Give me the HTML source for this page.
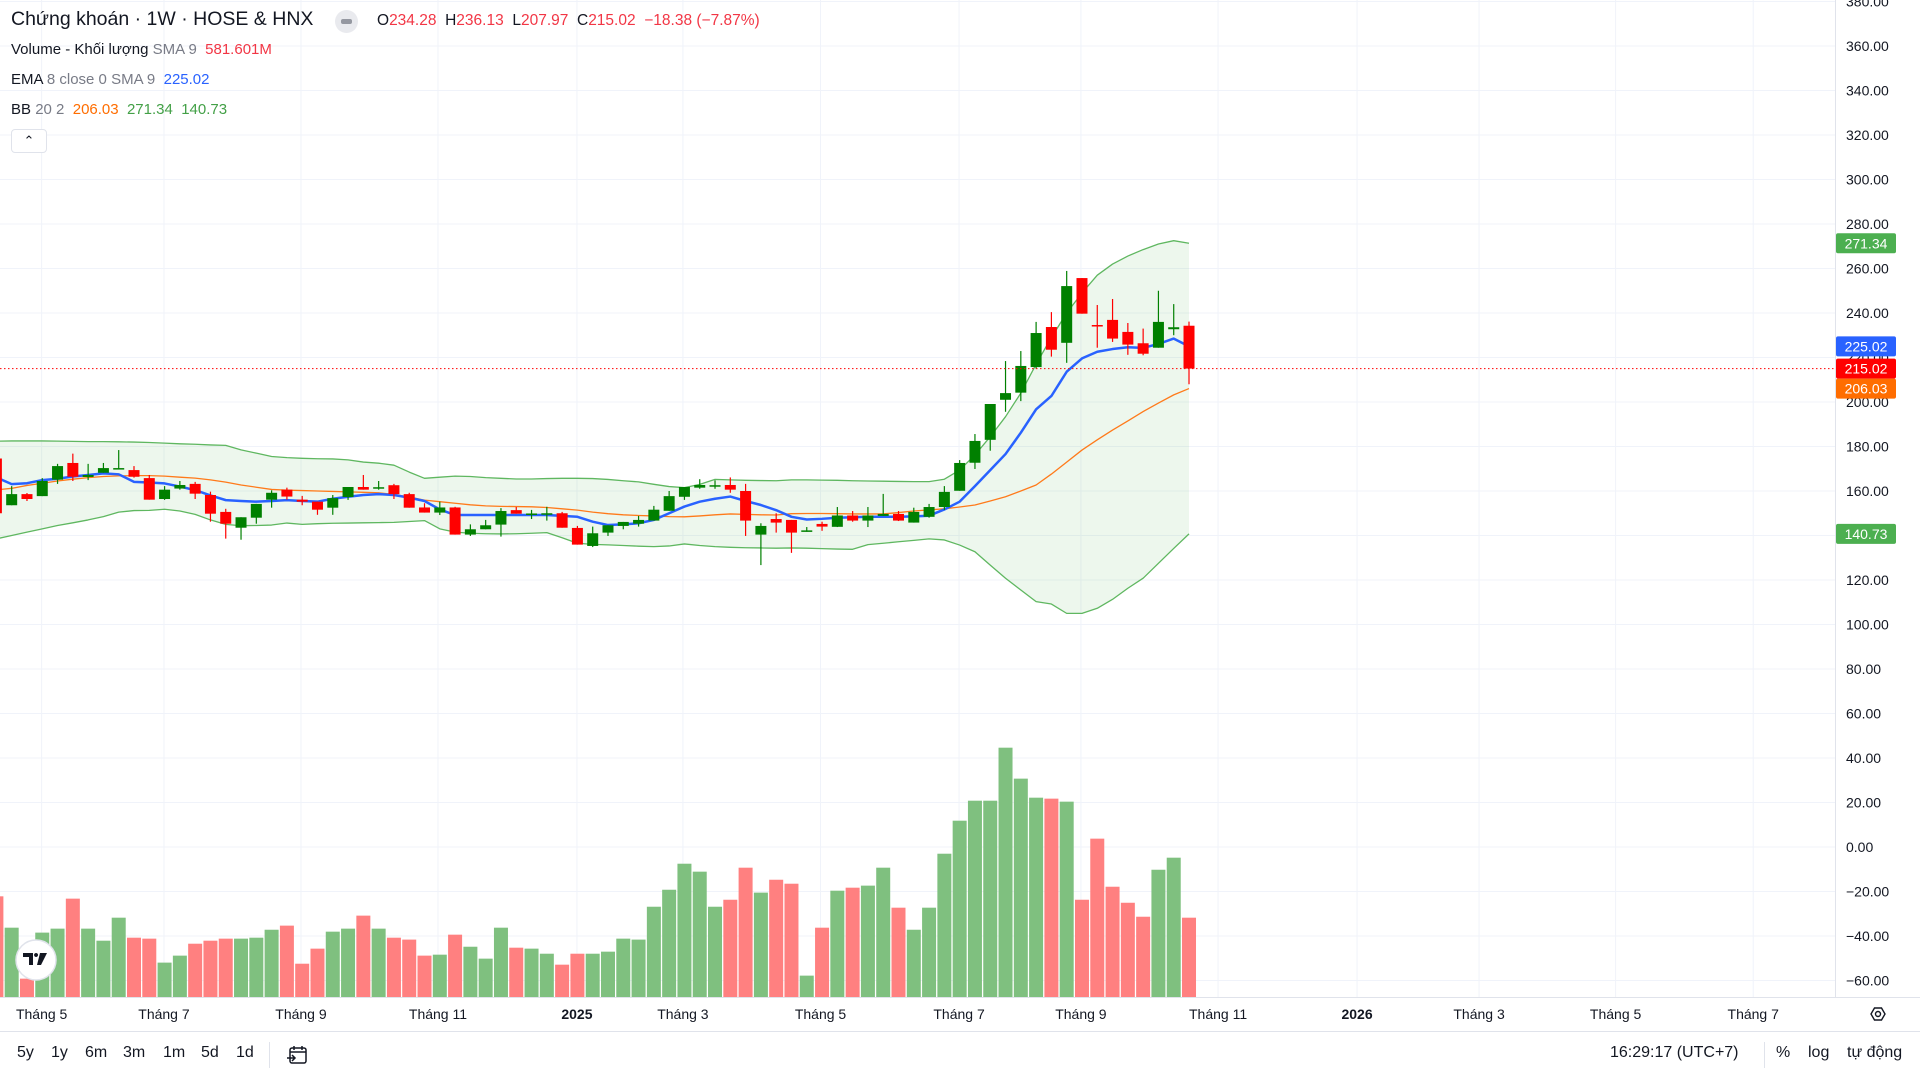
<!DOCTYPE html>
<html><head><meta charset="utf-8"><title>Chứng khoán 1W</title>
<style>
html,body{margin:0;padding:0;background:#fff;width:1920px;height:1080px;overflow:hidden;font-family:"Liberation Sans","Noto Sans CJK SC",sans-serif;color:#131722}
#chart{position:absolute;left:0;top:0}
.leg{position:absolute;left:11px;font-size:15px;white-space:nowrap;color:#131722}
.g{color:#787b86}
.tb{position:absolute;top:1044px;font-size:16px;color:#131722}
</style></head><body>
<svg id="chart" width="1920" height="1080" xmlns="http://www.w3.org/2000/svg"></svg>

<div class="leg" style="top:8px;font-size:19.5px">Chứng khoán · 1W · HOSE &amp; HNX</div>
<div style="position:absolute;left:335px;top:10px;width:23px;height:23px;border-radius:12px;background:#e9eaee"><div style="position:absolute;left:6px;top:9px;width:11px;height:5px;border-radius:2px;background:#9598a1"></div></div>
<div class="leg" style="left:377px;top:12px;font-size:15.5px">O<span style="color:#f23645">234.28</span>&nbsp; H<span style="color:#f23645">236.13</span>&nbsp; L<span style="color:#f23645">207.97</span>&nbsp; C<span style="color:#f23645">215.02</span>&nbsp; <span style="color:#f23645">−18.38 (−7.87%)</span></div>
<div class="leg" style="top:41px">Volume - Khối lượng <span class="g">SMA 9</span>&nbsp; <span style="color:#f23645">581.601M</span></div>
<div class="leg" style="top:71px">EMA <span class="g">8 close 0 SMA 9</span>&nbsp; <span style="color:#2962ff">225.02</span></div>
<div class="leg" style="top:101px">BB <span class="g">20 2</span>&nbsp; <span style="color:#ff6d00">206.03</span>&nbsp; <span style="color:#43a047">271.34</span>&nbsp; <span style="color:#43a047">140.73</span></div>
<div style="position:absolute;left:11px;top:129px;width:34px;height:22px;border:1px solid #e0e3eb;border-radius:4px;background:#fff;text-align:center;font-size:13px;line-height:22px">&#8963;</div>

<div style="position:absolute;left:0;top:1031px;width:1920px;height:1px;background:#e0e3eb"></div>
<div class="tb" style="left:17px">5y</div>
<div class="tb" style="left:51px">1y</div>
<div class="tb" style="left:85px">6m</div>
<div class="tb" style="left:123px">3m</div>
<div class="tb" style="left:163px">1m</div>
<div class="tb" style="left:201px">5d</div>
<div class="tb" style="left:236px">1d</div>
<div style="position:absolute;left:269px;top:1042px;width:1px;height:26px;background:#e0e3eb"></div>
<svg style="position:absolute;left:286px;top:1043px" width="24" height="24"><rect x="4" y="5" width="16" height="15" rx="2" fill="none" stroke="#131722" stroke-width="1.5"/><line x1="4" y1="9" x2="20" y2="9" stroke="#131722" stroke-width="1.5"/><line x1="8" y1="3" x2="8" y2="7" stroke="#131722" stroke-width="1.5"/><line x1="16" y1="3" x2="16" y2="7" stroke="#131722" stroke-width="1.5"/><path d="M1 15 h8 m-3 -3 l3 3 l-3 3" fill="none" stroke="#131722" stroke-width="1.5"/></svg>
<div class="tb" style="left:1610px">16:29:17 (UTC+7)</div>
<div style="position:absolute;left:1764px;top:1042px;width:1px;height:26px;background:#e0e3eb"></div>
<div class="tb" style="left:1776px">%</div>
<div class="tb" style="left:1808px">log</div>
<div class="tb" style="left:1847px">tự động</div>

<script>
const tickValues=[380,360,340,320,300,280,260,240,220,200,180,160,140,120,100,80,60,40,20,0,-20,-40,-60];
const monthLabels=["Tháng 5","Tháng 7","Tháng 9","Tháng 11","2025","Tháng 3","Tháng 5","Tháng 7","Tháng 9","Tháng 11","2026","Tháng 3","Tháng 5","Tháng 7"];
const monthPos=[3.96,11.96,20.92,29.88,38.97,45.9,54.9,63.96,71.93,80.9,89.99,97.97,106.9,115.9];
const openP=[170,174.6,153.6,158.6,157.7,165.1,172.6,166.3,168.2,170,169.4,165.8,156.4,161.1,163.2,158.2,150.6,143.5,148,156.1,160.6,156.1,155.2,152.5,157.3,161.8,161.1,162.6,158.6,152.6,150.3,152.6,140.4,142.8,144.9,151.4,149.4,149.5,150,143.4,135.3,141.3,144.3,145.3,146.7,151.1,157.4,161.5,162.4,162.7,160,140.4,147.4,147,141.7,145.2,143.9,149,146.7,148.8,149.7,145.8,148.4,152.8,160.1,172.7,183,201,204.2,215.7,233.7,226.6,255.7,234.6,236.9,231.5,226.4,224.4,232.7,234.28];
const highP=[173,176,162.2,159.1,165.8,172.2,176.8,172.2,172.6,178.4,171.2,167.2,162.2,164.5,164.1,159.7,152,148.2,154.2,160.3,161.5,157.8,155.2,158.2,161.8,167.2,164.5,163.2,159.2,154.5,155.2,152.9,145,147,152.3,152.8,151.5,152.9,150.6,144.3,144,144.6,146.1,148.8,153.3,160,161.8,165.3,164.8,166.1,163.2,145.5,150,147,143.8,146.2,152.8,151,152.8,158.7,151,152.5,154.2,162.2,173.9,185.6,199.1,218.4,222.9,236,240.4,258.9,255.7,243.6,246.3,235.5,233,250,244,236.13];
const lowP=[168,148,153.6,155.5,157.7,163.2,164.5,164.9,168.2,169.8,166,156.1,156,160.6,156.4,146.2,138.6,138.1,145.3,152.5,156.1,153.6,149.3,149.3,156,160.6,160.6,156.4,152.5,150.3,149.2,140.4,139.8,142.8,139.5,149.8,147.4,146.7,143.5,135.9,134.8,139.8,142.8,144,146.7,151.1,156,161,161,159.2,139.8,126.7,141.3,132.2,141.7,142.1,143.8,146.2,143.8,148.8,146.5,145.8,148,151.5,160.1,169.9,178.1,195.6,200.4,215,220.4,217.6,239.7,224.4,227,221.2,221,224.4,230,207.97];
const closeP=[172,150,158.6,156.4,164.5,171.2,166.4,167.2,170.3,170.3,166.4,156.1,160.6,162.7,158.8,149.8,145.3,148.2,154.2,159.2,157.5,155.2,151.6,156.8,161.8,160.6,161.7,158.6,152.5,150.3,152.6,140.4,142.8,144.6,151,149.8,149.9,150,143.5,135.9,141,144.6,146.1,147,151.6,157.7,161.8,162.7,162.6,160.6,146.7,144.3,145.8,141.3,142.3,144,149,146.7,149,149.7,146.7,150.6,152.8,159.6,172.6,182.5,199.1,204,216.2,231,223.5,252.1,239.7,234.4,228.5,225.8,221.7,236,233.6,215.02];
const volumeM=[500,735,506,134,470,499,718,499,411,579,433,426,251,302,389,411,426,426,433,491,521,243,353,477,499,594,499,433,419,302,309,455,367,280,506,360,353,316,236,316,316,331,426,419,659,783,973,915,659,710,944,762,856,827,156,506,776,798,813,944,652,491,652,1046,1287,1433,1433,1820,1594,1455,1448,1426,710,1156,805,688,586,929,1017,579];
const emaP=[167,166.1,163.1,163.5,164.9,165.5,166.5,167.2,167.9,167.5,164.1,163.8,163.4,162,160.4,158,155.9,155.5,155.2,155.5,155.9,155.5,155.2,156.5,157.4,158.2,158.6,158.2,157,155.5,151.7,149.2,149.2,149.2,149.2,149.2,149.2,149.2,148.8,148.4,146.2,144.7,145,145.5,147,150,153,155.2,156.5,157.5,155.5,153.7,151.4,148.4,147.2,147.5,148,148.2,148.4,148.4,148.4,148.6,148.9,151.7,155.2,162.2,169.4,176.6,186.2,196.7,202.7,213.6,219.6,222.6,223.8,224.6,224.3,226.1,228.5,225.02];
const bbUpper=[182.3,182.4,182.5,182.5,182.5,182.4,182.3,182.2,182.2,182.1,182.0,181.8,181.5,181.2,181,180.7,180.5,178.5,177,175.5,175,174.7,174.5,174.4,174,173,172.5,171.6,168.5,165.7,166.2,166.7,166.5,166,165.7,165.4,165.4,165.6,165.7,165.7,165.6,165.2,164.6,164.1,163,162,161.5,163,165.2,165,164.8,164.7,164.6,165,165,164.9,164.8,164.6,164.5,164.4,164.3,164.2,164.2,165.3,169.4,176.2,184.4,193.4,204,217,229,240,249,257,262,265.6,268.5,271,272.5,271.34];
const bbMid=[159.5,160.5,161.2,162.5,163.5,164.5,165.3,166,166.5,166.8,166.9,166.9,166.7,166.2,165.8,165,164,162.7,161.7,160.7,160.4,160.2,160,159.8,159.6,159.4,159.2,158.5,157.3,155.9,155.2,154.5,153.8,153.3,153.1,153,152.9,152.6,152,151.4,150.5,149.8,149.3,149,148.8,148.5,148.4,148.8,149.3,149.7,149.5,149.3,149.2,149.8,149.9,149.9,149.8,149.7,149.7,149.7,150.3,151,151.5,152,152.8,153.7,155.5,157.4,160,162.7,167.6,173,178.4,183,187.4,191.5,195.7,199.5,203.2,206.03];
const bbLower=[136.5,138.5,140,141.5,143,144.5,145.7,147,148.5,150.5,151.2,151.3,151.8,151,149.5,147,145,144.4,144.5,144.7,145.6,145,145.3,145.5,145.6,145.7,145.8,145.9,146.3,146.7,143,141.5,141,140.8,140.7,140.8,141,141.3,139,136.5,136,135.8,135.5,135.2,135,135.3,136.2,135.5,135,134.7,134.5,134.4,134.3,134.4,134.3,134.1,133.9,133.8,135.9,136.5,137.2,137.8,138.5,138,135.7,132.7,126.7,120.8,115.5,110.3,109.2,105,105,107.3,111.3,116.3,120.8,127.5,134.2,140.73];

const NS="http://www.w3.org/2000/svg";
const svg=document.getElementById('chart');
const PANE_R=1835, PANE_B=997;
function yS(v){return 847-2.225*v;}
function xS(i){return -18.9+15.29*i;}
function vS(v){return PANE_B-v/7.3;}
function mk(tag,attrs,parent){const e=document.createElementNS(NS,tag);for(const k in attrs)e.setAttribute(k,attrs[k]);(parent||svg).appendChild(e);return e;}

const clip=mk('clipPath',{id:'pc'});mk('rect',{x:0,y:0,width:PANE_R,height:PANE_B},clip);
const grid=mk('g',{});


tickValues.forEach(v=>{const l=mk('line',{x1:0,x2:PANE_R,y1:yS(v),y2:yS(v),stroke:'#f0f3fa','stroke-width':1},grid);

});
monthPos.forEach(p=>{const x=xS(p);const l=mk('line',{x1:x,x2:x,y1:0,y2:PANE_B,stroke:'#f0f3fa','stroke-width':1},grid);

});

const plot=mk('g',{'clip-path':'url(#pc)'});


const n=closeP.length;

for(let i=0;i<n;i++){const up=closeP[i]>=openP[i];const t=vS(volumeM[i]);
const r=mk('rect',{x:xS(i)-7,y:t,width:14,height:PANE_B-t,fill:up?'#7fc07f':'#ff8080'},plot);

}

let pts=[];for(let i=0;i<n;i++)pts.push(xS(i)+','+yS(bbUpper[i]));for(let i=n-1;i>=0;i--)pts.push(xS(i)+','+yS(bbLower[i]));
const fill=mk('polygon',{points:pts.join(' '),fill:'rgba(76,175,80,0.1)'},plot);


function line(arr,color,w,name){const d=arr.map((v,i)=>(i?'L':'M')+xS(i)+' '+yS(v)).join(' ');const p=mk('path',{d:d,fill:'none',stroke:color,'stroke-width':w,'stroke-linejoin':'round'},plot);

}
line(bbUpper,'#5fb760',1.3,'bb-upper-line');
line(bbLower,'#5fb760',1.3,'bb-lower-line');
line(bbMid,'#ff7a1a',1.3,'bb-basis-line');
line(emaP,'#2962ff',2.5,'ema-line');

for(let i=0;i<n;i++){const up=closeP[i]>=openP[i];const c=up?'#008000':'#ff0000';const x=xS(i);
const g=mk('g',{},plot);


mk('line',{x1:x,x2:x,y1:yS(highP[i]),y2:yS(lowP[i]),stroke:c,'stroke-width':1.2},g);
const t=yS(Math.max(openP[i],closeP[i])),b=yS(Math.min(openP[i],closeP[i]));
mk('rect',{x:x-5.5,y:t,width:11,height:Math.max(b-t,1.5),fill:c},g);}

const lastY=yS(closeP[n-1]);
const pl=mk('line',{x1:0,x2:PANE_R,y1:lastY,y2:lastY,stroke:'#ff0000','stroke-width':1,'stroke-dasharray':'1.5 2.5'});



mk('line',{x1:PANE_R+0.5,x2:PANE_R+0.5,y1:0,y2:PANE_B,stroke:'#e0e3eb'});
mk('line',{x1:0,x2:1920,y1:PANE_B+0.5,y2:PANE_B+0.5,stroke:'#e0e3eb'});
tickValues.forEach(v=>{const t=mk('text',{x:1846,y:yS(v)+5,'font-size':14,fill:'#131722','font-family':'Liberation Sans, sans-serif'});t.textContent=(v<0?'−'+Math.abs(v).toFixed(2):v.toFixed(2));

});
monthLabels.forEach((s,k)=>{const bold=(s==='2025'||s==='2026');const t=mk('text',{x:xS(monthPos[k]),y:1019,'text-anchor':'middle','font-size':14,'font-weight':bold?'bold':'normal',fill:'#131722','font-family':'Liberation Sans, sans-serif'});t.textContent=s;

});

function badge(val,txt,color,w,name){const y=(typeof val==='number')?yS(val):val;const g=mk('g',{});


mk('rect',{x:1836,y:y-10,width:w,height:20,rx:2,fill:color},g);
const t=mk('text',{x:1836+w/2,y:y+5,'text-anchor':'middle','font-size':14,fill:'#fff','font-family':'Liberation Sans, sans-serif'},g);t.textContent=txt;}
badge(bbUpper[n-1],bbUpper[n-1].toFixed(2),'#4caf50',60,'bb-upper-badge');
badge(emaP[n-1],emaP[n-1].toFixed(2),'#2962ff',60,'ema-badge');
badge(closeP[n-1],closeP[n-1].toFixed(2),'#ff0000',60,'last-price-badge');
badge(bbMid[n-1],bbMid[n-1].toFixed(2),'#ff6d00',60,'bb-basis-badge');
badge(bbLower[n-1],bbLower[n-1].toFixed(2),'#4caf50',60,'bb-lower-badge');
badge(PANE_B-volumeM[n-1]/7.3,'581.601M','#ff0000',78,'volume-sma-badge');

const lg=mk('g',{});


mk('circle',{cx:36,cy:960,r:20,fill:'#fff',stroke:'#e0e3eb','stroke-width':1.5},lg);
mk('path',{d:'M23 953 h10 v12 h-4 v-8 h-6z M36 953 a2 2 0 1 0 0.1 0 M40 953 h7 l-6 12 h-4z',fill:'#131722'},lg);
const gear=mk('g',{});


mk('polygon',{points:'1871,1014 1874.5,1008 1881.5,1008 1885,1014 1881.5,1020 1874.5,1020',fill:'none',stroke:'#131722','stroke-width':1.4},gear);
mk('circle',{cx:1878,cy:1014,r:2.5,fill:'none',stroke:'#131722','stroke-width':1.4},gear);
</script>
</body></html>
